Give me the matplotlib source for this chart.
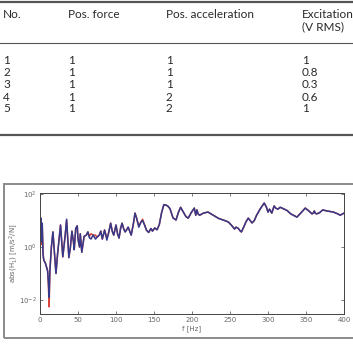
import matplotlib
matplotlib.use("Agg")
import matplotlib.pyplot as plt
import numpy as np
from matplotlib.patches import Rectangle
from matplotlib.lines import Line2D

# ---------------- table data ----------------
headers = ["No.", "Pos. force", "Pos. acceleration", "Excitation\n(V RMS)"]
col_no = ["1", "2", "3", "4", "5"]
col_force = ["1", "1", "1", "1", "1"]
col_accel = ["1", "1", "1", "2", "2"]
col_exc = ["1", "0.8", "0.3", "0.6", "1"]

# ---------------- curve data (freq in Hz, log10 |H1|) ----------------
freq = [0, 1, 2, 3, 4, 5, 7, 9, 10, 11, 12, 13, 15, 17, 19, 21, 23, 27, 30, 33,
        35, 38, 40, 42, 44, 45, 47, 49, 50, 52, 53, 55, 58, 61, 63, 65, 67, 70, 73, 75,
        78, 80, 82, 85, 88, 90, 93, 95, 97, 100, 102, 104, 106, 108, 110, 112, 114, 116, 118, 120,
        123, 125, 127, 130, 133, 135, 138, 140, 143, 146, 148, 151, 154, 157, 160, 163, 166, 168, 171, 175,
        179, 182, 185, 188, 192, 195, 199, 203, 205, 206.5, 208, 210, 215, 221, 228, 235, 240, 245, 248, 252,
        256, 258, 261, 263, 265, 268, 271, 274, 277, 279, 282, 285, 290, 295, 298, 300, 302, 305, 308, 310,
        313, 316, 320, 325, 330, 338, 343, 349, 353, 358, 360, 361, 362, 364, 368, 372, 378, 386, 392, 395,
        398, 400]
log_blue = [0.6, 1.1, 0.2, 0.9, -0.3, -0.5, -0.6, -0.8, -0.9, -1.3, -1.9, -0.9, 0.0, 0.57, -0.2, -1.0, -0.3, 0.83, -0.37, 0.4,
            1.05, -0.4, 0.0, 0.6, 0.2, -0.1, 0.7, 0.8, 0.3, 0.0, 0.5, -0.2, 0.4, 0.45, 0.57, 0.35, 0.3, 0.45, 0.3, 0.37,
            0.45, 0.6, 0.3, 0.64, 0.26, 0.5, 0.9, 0.6, 0.45, 0.83, 0.5, 0.34, 0.7, 0.9, 0.7, 0.57, 0.65, 0.75, 0.6, 0.45,
            0.9, 1.28, 1.1, 0.75, 0.95, 1.0, 0.8, 0.64, 0.55, 0.7, 0.6, 0.72, 0.65, 0.85, 1.3, 1.6, 1.58, 1.55, 1.45, 1.1,
            1.02, 1.3, 1.5, 1.35, 1.15, 1.09, 1.3, 1.47, 1.2, 1.4, 1.25, 1.2, 1.28, 1.32, 1.2, 1.08, 1.03, 0.98, 0.94, 0.82,
            0.68, 0.75, 0.7, 0.62, 0.57, 0.75, 0.95, 1.09, 0.98, 0.91, 1.0, 1.2, 1.45, 1.66, 1.5, 1.32, 1.43, 1.28, 1.55, 1.47,
            1.43, 1.5, 1.45, 1.38, 1.25, 1.13, 1.28, 1.47, 1.38, 1.25, 1.3, 1.36, 1.28, 1.25, 1.3, 1.4, 1.36, 1.32, 1.25, 1.2,
            1.25, 1.28]
log_red = [0.5, 0.9, 0.1, 0.7, -0.2, -0.5, -0.6, -0.8, -0.9, -1.4, -2.26, -0.9, 0.0, 0.57, -0.2, -1.0, -0.3, 0.83, -0.37, 0.4,
           1.0, -0.4, 0.0, 0.6, 0.2, -0.1, 0.7, 0.8, 0.3, 0.0, 0.5, -0.2, 0.4, 0.45, 0.57, 0.4, 0.5, 0.45, 0.45, 0.37,
           0.45, 0.6, 0.3, 0.64, 0.35, 0.5, 0.9, 0.6, 0.45, 0.83, 0.5, 0.34, 0.7, 0.9, 0.7, 0.57, 0.65, 0.75, 0.6, 0.45,
           0.9, 1.28, 1.1, 0.8, 0.95, 1.05, 0.8, 0.64, 0.55, 0.7, 0.6, 0.72, 0.65, 0.85, 1.3, 1.6, 1.58, 1.55, 1.45, 1.1,
           1.02, 1.3, 1.5, 1.35, 1.15, 1.09, 1.3, 1.47, 1.2, 1.4, 1.25, 1.2, 1.28, 1.32, 1.2, 1.08, 1.03, 0.98, 0.94, 0.82,
           0.68, 0.75, 0.7, 0.62, 0.57, 0.75, 0.95, 1.09, 0.98, 0.91, 1.0, 1.2, 1.45, 1.66, 1.5, 1.32, 1.43, 1.28, 1.55, 1.47,
           1.43, 1.5, 1.45, 1.38, 1.25, 1.13, 1.28, 1.47, 1.38, 1.25, 1.3, 1.36, 1.28, 1.25, 1.3, 1.4, 1.36, 1.32, 1.25, 1.2,
           1.25, 1.28]
xticks = [0, 50, 100, 150, 200, 250, 300, 350, 400]
yticks = [1e-2, 1e0, 1e2]
ytick_labels = [r"$10^{-2}$", r"$10^{0}$", r"$10^{2}$"]

W, H = 353, 344
fig = plt.figure(figsize=(W / 100, H / 100), dpi=100)
fig.patch.set_facecolor("white")

def fx(px):
    return px / W

def fy(py):
    return 1 - py / H

# ---------------- table ----------------
tcol = "#2a2a2a"
tfont = ["Lato", "DejaVu Sans"]
fs = 8.5
col_x = [3, 68, 166, 302]
for x, h in zip(col_x, headers):
    fig.text(fx(x), fy(9), h, ha="left", va="top", fontsize=fs, color=tcol,
             family=tfont, linespacing=1.15)
row_y = [61, 73, 85, 97, 109]
for i, y in enumerate(row_y):
    for x, col in zip(col_x, [col_no, col_force, col_accel, col_exc]):
        fig.text(fx(x), fy(y), col[i], ha="left", va="center", fontsize=fs,
                 color=tcol, family=tfont)
for y, lw in [(1.5, 1.6), (42.5, 0.8), (135, 1.6)]:
    fig.add_artist(Line2D([0, 1], [fy(y), fy(y)], color="#555555", lw=lw,
                          transform=fig.transFigure))

# ---------------- outer frame of figure panel ----------------
fig.add_artist(Rectangle((fx(3.5), fy(338)), fx(360) - fx(3.5), fy(184) - fy(338),
                         transform=fig.transFigure, fill=False,
                         edgecolor="#8a8a8a", lw=1.4))

# ---------------- plot ----------------
ax = fig.add_axes([fx(40), fy(314), fx(344) - fx(40), fy(193) - fy(314)])
f = np.array(freq)
ax.semilogy(f, 10 ** np.array(log_red), color="#d9443a", lw=1.1)
ax.semilogy(f, 10 ** np.array(log_blue), color="#34398a", lw=1.1)
ax.set_xlim(0, 400)
ax.set_ylim(10 ** -2.53, 10 ** 2.04)
ax.set_xticks(xticks)
ax.set_xticklabels([str(t) for t in xticks])
ax.set_yticks(yticks)
ax.set_yticklabels(ytick_labels)
ax.yaxis.set_minor_locator(matplotlib.ticker.NullLocator())
ax.tick_params(direction="in", length=2.5, width=0.5, labelsize=5,
               labelcolor="#666666", color="#444444", top=True, right=True, pad=2.5)
for s in ax.spines.values():
    s.set_linewidth(0.7)
    s.set_color("#444444")
ax.set_xlabel("f [Hz]", fontsize=5, color="#666666", labelpad=1)
ax.set_ylabel(r"abs(H$_1$) [m/s$^2$/N]", fontsize=5, color="#666666")
ax.yaxis.set_label_coords(-0.066, 0.5)

fig.savefig("out.png", dpi=100)
